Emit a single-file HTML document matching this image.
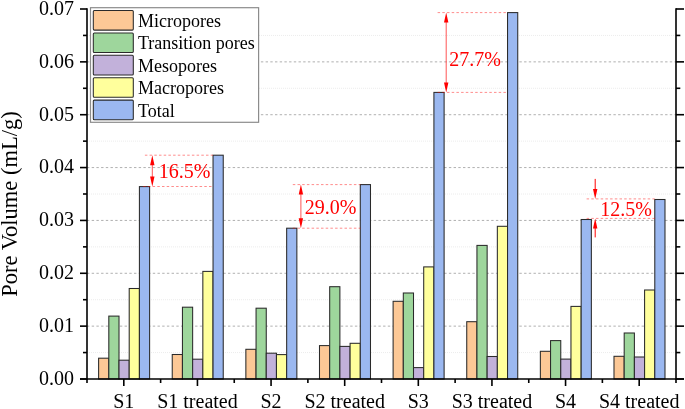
<!DOCTYPE html><html><head><meta charset="utf-8"><style>html,body{margin:0;padding:0;background:#fff;width:685px;height:409px;overflow:hidden}</style></head><body><svg width="685" height="409" viewBox="0 0 685 409" style="display:block;will-change:transform">
<rect width="100%" height="100%" fill="#fff"/>
<line x1="87" x2="676" y1="352.57" y2="352.57" stroke="#ececec" stroke-width="1" stroke-dasharray="1 1"/>
<line x1="87" x2="676" y1="326.14" y2="326.14" stroke="#b0b0b0" stroke-width="1" stroke-dasharray="2.4 2.3"/>
<line x1="87" x2="676" y1="299.71" y2="299.71" stroke="#ececec" stroke-width="1" stroke-dasharray="1 1"/>
<line x1="87" x2="676" y1="273.29" y2="273.29" stroke="#b0b0b0" stroke-width="1" stroke-dasharray="2.4 2.3"/>
<line x1="87" x2="676" y1="246.86" y2="246.86" stroke="#ececec" stroke-width="1" stroke-dasharray="1 1"/>
<line x1="87" x2="676" y1="220.43" y2="220.43" stroke="#b0b0b0" stroke-width="1" stroke-dasharray="2.4 2.3"/>
<line x1="87" x2="676" y1="194.00" y2="194.00" stroke="#ececec" stroke-width="1" stroke-dasharray="1 1"/>
<line x1="87" x2="676" y1="167.57" y2="167.57" stroke="#b0b0b0" stroke-width="1" stroke-dasharray="2.4 2.3"/>
<line x1="87" x2="676" y1="141.14" y2="141.14" stroke="#ececec" stroke-width="1" stroke-dasharray="1 1"/>
<line x1="87" x2="676" y1="114.71" y2="114.71" stroke="#b0b0b0" stroke-width="1" stroke-dasharray="2.4 2.3"/>
<line x1="87" x2="676" y1="88.29" y2="88.29" stroke="#ececec" stroke-width="1" stroke-dasharray="1 1"/>
<line x1="87" x2="676" y1="61.86" y2="61.86" stroke="#b0b0b0" stroke-width="1" stroke-dasharray="2.4 2.3"/>
<line x1="87" x2="676" y1="35.43" y2="35.43" stroke="#ececec" stroke-width="1" stroke-dasharray="1 1"/>
<rect x="98.61" y="358.20" width="10.2" height="20.80" fill="#FCC896" stroke="#2a2a2a" stroke-width="1.05"/>
<rect x="108.81" y="316.10" width="10.2" height="62.90" fill="#9ED69C" stroke="#2a2a2a" stroke-width="1.05"/>
<rect x="119.01" y="360.20" width="10.2" height="18.80" fill="#C2B1DA" stroke="#2a2a2a" stroke-width="1.05"/>
<rect x="129.21" y="288.50" width="10.2" height="90.50" fill="#FFFF9C" stroke="#2a2a2a" stroke-width="1.05"/>
<rect x="139.41" y="186.60" width="10.2" height="192.40" fill="#9BB8F0" stroke="#2a2a2a" stroke-width="1.05"/>
<rect x="172.24" y="354.50" width="10.2" height="24.50" fill="#FCC896" stroke="#2a2a2a" stroke-width="1.05"/>
<rect x="182.44" y="307.20" width="10.2" height="71.80" fill="#9ED69C" stroke="#2a2a2a" stroke-width="1.05"/>
<rect x="192.64" y="359.20" width="10.2" height="19.80" fill="#C2B1DA" stroke="#2a2a2a" stroke-width="1.05"/>
<rect x="202.84" y="271.40" width="10.2" height="107.60" fill="#FFFF9C" stroke="#2a2a2a" stroke-width="1.05"/>
<rect x="213.04" y="155.20" width="10.2" height="223.80" fill="#9BB8F0" stroke="#2a2a2a" stroke-width="1.05"/>
<rect x="245.86" y="349.30" width="10.2" height="29.70" fill="#FCC896" stroke="#2a2a2a" stroke-width="1.05"/>
<rect x="256.06" y="308.20" width="10.2" height="70.80" fill="#9ED69C" stroke="#2a2a2a" stroke-width="1.05"/>
<rect x="266.26" y="353.20" width="10.2" height="25.80" fill="#C2B1DA" stroke="#2a2a2a" stroke-width="1.05"/>
<rect x="276.46" y="354.60" width="10.2" height="24.40" fill="#FFFF9C" stroke="#2a2a2a" stroke-width="1.05"/>
<rect x="286.66" y="228.20" width="10.2" height="150.80" fill="#9BB8F0" stroke="#2a2a2a" stroke-width="1.05"/>
<rect x="319.49" y="345.60" width="10.2" height="33.40" fill="#FCC896" stroke="#2a2a2a" stroke-width="1.05"/>
<rect x="329.69" y="286.70" width="10.2" height="92.30" fill="#9ED69C" stroke="#2a2a2a" stroke-width="1.05"/>
<rect x="339.89" y="346.40" width="10.2" height="32.60" fill="#C2B1DA" stroke="#2a2a2a" stroke-width="1.05"/>
<rect x="350.09" y="343.30" width="10.2" height="35.70" fill="#FFFF9C" stroke="#2a2a2a" stroke-width="1.05"/>
<rect x="360.29" y="184.60" width="10.2" height="194.40" fill="#9BB8F0" stroke="#2a2a2a" stroke-width="1.05"/>
<rect x="393.11" y="301.30" width="10.2" height="77.70" fill="#FCC896" stroke="#2a2a2a" stroke-width="1.05"/>
<rect x="403.31" y="293.00" width="10.2" height="86.00" fill="#9ED69C" stroke="#2a2a2a" stroke-width="1.05"/>
<rect x="413.51" y="367.60" width="10.2" height="11.40" fill="#C2B1DA" stroke="#2a2a2a" stroke-width="1.05"/>
<rect x="423.71" y="266.90" width="10.2" height="112.10" fill="#FFFF9C" stroke="#2a2a2a" stroke-width="1.05"/>
<rect x="433.91" y="92.40" width="10.2" height="286.60" fill="#9BB8F0" stroke="#2a2a2a" stroke-width="1.05"/>
<rect x="466.74" y="321.70" width="10.2" height="57.30" fill="#FCC896" stroke="#2a2a2a" stroke-width="1.05"/>
<rect x="476.94" y="245.40" width="10.2" height="133.60" fill="#9ED69C" stroke="#2a2a2a" stroke-width="1.05"/>
<rect x="487.14" y="356.50" width="10.2" height="22.50" fill="#C2B1DA" stroke="#2a2a2a" stroke-width="1.05"/>
<rect x="497.34" y="226.30" width="10.2" height="152.70" fill="#FFFF9C" stroke="#2a2a2a" stroke-width="1.05"/>
<rect x="507.54" y="12.60" width="10.2" height="366.40" fill="#9BB8F0" stroke="#2a2a2a" stroke-width="1.05"/>
<rect x="540.36" y="351.30" width="10.2" height="27.70" fill="#FCC896" stroke="#2a2a2a" stroke-width="1.05"/>
<rect x="550.56" y="340.60" width="10.2" height="38.40" fill="#9ED69C" stroke="#2a2a2a" stroke-width="1.05"/>
<rect x="560.76" y="359.10" width="10.2" height="19.90" fill="#C2B1DA" stroke="#2a2a2a" stroke-width="1.05"/>
<rect x="570.96" y="306.40" width="10.2" height="72.60" fill="#FFFF9C" stroke="#2a2a2a" stroke-width="1.05"/>
<rect x="581.16" y="219.50" width="10.2" height="159.50" fill="#9BB8F0" stroke="#2a2a2a" stroke-width="1.05"/>
<rect x="613.99" y="356.30" width="10.2" height="22.70" fill="#FCC896" stroke="#2a2a2a" stroke-width="1.05"/>
<rect x="624.19" y="333.00" width="10.2" height="46.00" fill="#9ED69C" stroke="#2a2a2a" stroke-width="1.05"/>
<rect x="634.39" y="357.00" width="10.2" height="22.00" fill="#C2B1DA" stroke="#2a2a2a" stroke-width="1.05"/>
<rect x="644.59" y="290.00" width="10.2" height="89.00" fill="#FFFF9C" stroke="#2a2a2a" stroke-width="1.05"/>
<rect x="654.79" y="199.50" width="10.2" height="179.50" fill="#9BB8F0" stroke="#2a2a2a" stroke-width="1.05"/>
<g stroke="#000" stroke-width="1.6" fill="none">
<line x1="87" x2="87" y1="8.20" y2="379.8"/>
<line x1="676" x2="676" y1="8.20" y2="379.8"/>
<line x1="80" x2="684" y1="379.0" y2="379.0"/>
<line x1="80" x2="87" y1="379.00" y2="379.00"/>
<line x1="676" x2="684" y1="379.00" y2="379.00"/>
<line x1="83" x2="87" y1="352.57" y2="352.57"/>
<line x1="676" x2="680.3" y1="352.57" y2="352.57"/>
<line x1="80" x2="87" y1="326.14" y2="326.14"/>
<line x1="676" x2="684" y1="326.14" y2="326.14"/>
<line x1="83" x2="87" y1="299.71" y2="299.71"/>
<line x1="676" x2="680.3" y1="299.71" y2="299.71"/>
<line x1="80" x2="87" y1="273.29" y2="273.29"/>
<line x1="676" x2="684" y1="273.29" y2="273.29"/>
<line x1="83" x2="87" y1="246.86" y2="246.86"/>
<line x1="676" x2="680.3" y1="246.86" y2="246.86"/>
<line x1="80" x2="87" y1="220.43" y2="220.43"/>
<line x1="676" x2="684" y1="220.43" y2="220.43"/>
<line x1="83" x2="87" y1="194.00" y2="194.00"/>
<line x1="676" x2="680.3" y1="194.00" y2="194.00"/>
<line x1="80" x2="87" y1="167.57" y2="167.57"/>
<line x1="676" x2="684" y1="167.57" y2="167.57"/>
<line x1="83" x2="87" y1="141.14" y2="141.14"/>
<line x1="676" x2="680.3" y1="141.14" y2="141.14"/>
<line x1="80" x2="87" y1="114.71" y2="114.71"/>
<line x1="676" x2="684" y1="114.71" y2="114.71"/>
<line x1="83" x2="87" y1="88.29" y2="88.29"/>
<line x1="676" x2="680.3" y1="88.29" y2="88.29"/>
<line x1="80" x2="87" y1="61.86" y2="61.86"/>
<line x1="676" x2="684" y1="61.86" y2="61.86"/>
<line x1="83" x2="87" y1="35.43" y2="35.43"/>
<line x1="676" x2="680.3" y1="35.43" y2="35.43"/>
<line x1="80" x2="87" y1="9.00" y2="9.00"/>
<line x1="676" x2="684" y1="9.00" y2="9.00"/>
<line x1="87.00" x2="87.00" y1="379.0" y2="383.0"/>
<line x1="123.81" x2="123.81" y1="379.0" y2="386.0"/>
<line x1="160.62" x2="160.62" y1="379.0" y2="383.0"/>
<line x1="197.44" x2="197.44" y1="379.0" y2="386.0"/>
<line x1="234.25" x2="234.25" y1="379.0" y2="383.0"/>
<line x1="271.06" x2="271.06" y1="379.0" y2="386.0"/>
<line x1="307.88" x2="307.88" y1="379.0" y2="383.0"/>
<line x1="344.69" x2="344.69" y1="379.0" y2="386.0"/>
<line x1="381.50" x2="381.50" y1="379.0" y2="383.0"/>
<line x1="418.31" x2="418.31" y1="379.0" y2="386.0"/>
<line x1="455.12" x2="455.12" y1="379.0" y2="383.0"/>
<line x1="491.94" x2="491.94" y1="379.0" y2="386.0"/>
<line x1="528.75" x2="528.75" y1="379.0" y2="383.0"/>
<line x1="565.56" x2="565.56" y1="379.0" y2="386.0"/>
<line x1="602.38" x2="602.38" y1="379.0" y2="383.0"/>
<line x1="639.19" x2="639.19" y1="379.0" y2="386.0"/>
<line x1="676.00" x2="676.00" y1="379.0" y2="383.0"/>
</g>
<g font-family="Liberation Serif" font-size="20" fill="#000">
<text x="73.9" y="384.80" text-anchor="end">0.00</text>
<text x="73.9" y="331.94" text-anchor="end">0.01</text>
<text x="73.9" y="279.09" text-anchor="end">0.02</text>
<text x="73.9" y="226.23" text-anchor="end">0.03</text>
<text x="73.9" y="173.37" text-anchor="end">0.04</text>
<text x="73.9" y="120.51" text-anchor="end">0.05</text>
<text x="73.9" y="67.66" text-anchor="end">0.06</text>
<text x="73.9" y="14.80" text-anchor="end">0.07</text>
<text x="123.81" y="407.5" text-anchor="middle">S1</text>
<text x="197.44" y="407.5" text-anchor="middle">S1 treated</text>
<text x="271.06" y="407.5" text-anchor="middle">S2</text>
<text x="344.69" y="407.5" text-anchor="middle">S2 treated</text>
<text x="418.31" y="407.5" text-anchor="middle">S3</text>
<text x="491.94" y="407.5" text-anchor="middle">S3 treated</text>
<text x="565.56" y="407.5" text-anchor="middle">S4</text>
<text x="639.19" y="407.5" text-anchor="middle">S4 treated</text>
</g>
<text transform="translate(16.5 204) rotate(-90)" font-family="Liberation Serif" font-size="22.5" text-anchor="middle">Pore Volume (mL/g)</text>
<rect x="90.5" y="7.7" width="168.1" height="114.6" fill="#fff" stroke="#8c8c8c" stroke-width="1.2"/>
<rect x="93.3" y="10.50" width="40" height="19.6" rx="1" fill="#FCC896" stroke="#2a2a2a" stroke-width="1.05"/>
<text x="138" y="26.90" font-family="Liberation Serif" font-size="18">Micropores</text>
<rect x="93.3" y="32.90" width="40" height="19.6" rx="1" fill="#9ED69C" stroke="#2a2a2a" stroke-width="1.05"/>
<text x="138" y="49.30" font-family="Liberation Serif" font-size="18">Transition pores</text>
<rect x="93.3" y="55.30" width="40" height="19.6" rx="1" fill="#C2B1DA" stroke="#2a2a2a" stroke-width="1.05"/>
<text x="138" y="71.70" font-family="Liberation Serif" font-size="18">Mesopores</text>
<rect x="93.3" y="77.70" width="40" height="19.6" rx="1" fill="#FFFF9C" stroke="#2a2a2a" stroke-width="1.05"/>
<text x="138" y="94.10" font-family="Liberation Serif" font-size="18">Macropores</text>
<rect x="93.3" y="100.10" width="40" height="19.6" rx="1" fill="#9BB8F0" stroke="#2a2a2a" stroke-width="1.05"/>
<text x="138" y="116.50" font-family="Liberation Serif" font-size="18">Total</text>
<line x1="144.9" x2="213" y1="155.2" y2="155.2" stroke="#f00" stroke-opacity="0.45" stroke-width="1" stroke-dasharray="2.5 2.2" /><line x1="143.2" x2="213" y1="186.5" y2="186.5" stroke="#f00" stroke-opacity="0.45" stroke-width="1" stroke-dasharray="2.5 2.2" /><line x1="152.3" x2="152.3" y1="160.2" y2="181.5" stroke="#f00" stroke-opacity="0.75" stroke-width="0.9"/><path d="M152.3 155.2 l-2.2 10 h4.4z M152.3 186.5 l-2.2 -10 h4.4z" fill="#f00"/><text x="158.8" y="177.5" font-family="Liberation Serif" font-size="20" fill="#f00">16.5%</text>
<line x1="292.8" x2="360.5" y1="184.6" y2="184.6" stroke="#f00" stroke-opacity="0.45" stroke-width="1" stroke-dasharray="2.5 2.2" /><line x1="292.8" x2="360.5" y1="228.2" y2="228.2" stroke="#f00" stroke-opacity="0.45" stroke-width="1" stroke-dasharray="2.5 2.2" /><line x1="300.9" x2="300.9" y1="189.6" y2="223.2" stroke="#f00" stroke-opacity="0.75" stroke-width="0.9"/><path d="M300.9 184.6 l-2.2 10 h4.4z M300.9 228.2 l-2.2 -10 h4.4z" fill="#f00"/><text x="304.8" y="213.6" font-family="Liberation Serif" font-size="20" fill="#f00">29.0%</text>
<line x1="437.6" x2="507.5" y1="12.6" y2="12.6" stroke="#f00" stroke-opacity="0.45" stroke-width="1" stroke-dasharray="2.5 2.2" /><line x1="437.6" x2="507.5" y1="92.4" y2="92.4" stroke="#f00" stroke-opacity="0.45" stroke-width="1" stroke-dasharray="2.5 2.2" /><line x1="446.2" x2="446.2" y1="17.6" y2="87.4" stroke="#f00" stroke-opacity="0.75" stroke-width="0.9"/><path d="M446.2 12.6 l-2.2 10 h4.4z M446.2 92.4 l-2.2 -10 h4.4z" fill="#f00"/><text x="449.3" y="66.3" font-family="Liberation Serif" font-size="20" fill="#f00">27.7%</text>
<line x1="586.6" x2="654.8" y1="198.9" y2="198.9" stroke="#f00" stroke-opacity="0.45" stroke-width="1" stroke-dasharray="2.5 2.2" /><line x1="586.6" x2="654.8" y1="218.4" y2="218.4" stroke="#f00" stroke-opacity="0.45" stroke-width="1" stroke-dasharray="2.5 2.2" /><line x1="595.2" x2="595.2" y1="178.9" y2="193.9" stroke="#f00" stroke-width="1"/><line x1="595.2" x2="595.2" y1="223.4" y2="237.4" stroke="#f00" stroke-width="1"/><path d="M595.2 198.9 l-2.2 -10 h4.4z M595.2 218.4 l-2.2 10 h4.4z" fill="#f00"/><text x="600.2" y="216.3" font-family="Liberation Serif" font-size="20" fill="#f00">12.5%</text>
</svg></body></html>
